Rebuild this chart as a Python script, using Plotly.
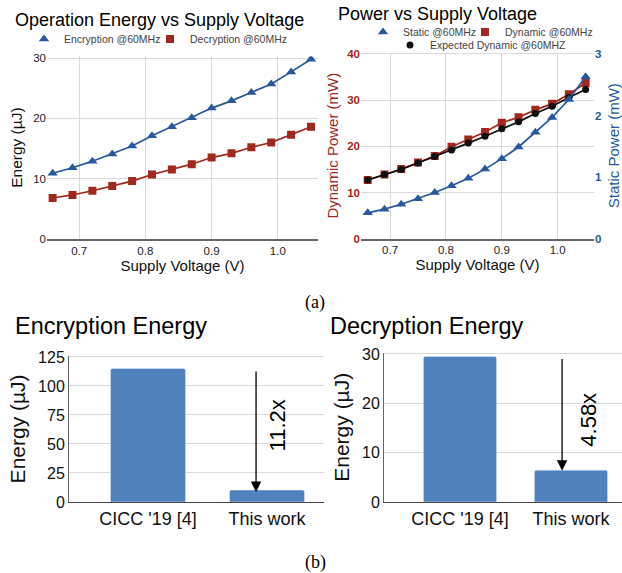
import plotly.graph_objects as go

# ---------------- data ----------------
voltage = [0.66, 0.69, 0.72, 0.75, 0.78, 0.81, 0.84, 0.87, 0.90, 0.93, 0.96, 0.99, 1.02, 1.05]
enc_energy = [10.9, 11.8, 12.9, 14.1, 15.4, 17.1, 18.6, 20.1, 21.7, 22.9, 24.3, 25.7, 27.7, 29.8]
dec_energy = [6.8, 7.3, 8.0, 8.8, 9.6, 10.7, 11.5, 12.4, 13.5, 14.2, 15.2, 16.0, 17.3, 18.6]
dyn_power = [12.7, 13.9, 15.1, 16.5, 17.9, 19.9, 21.5, 23.1, 25.1, 26.3, 27.9, 29.2, 31.3, 33.7]
exp_dyn_power = [12.7, 13.9, 15.0, 16.4, 17.8, 19.2, 20.7, 22.2, 23.8, 25.3, 27.1, 28.7, 30.6, 32.3]
static_power = [0.42, 0.48, 0.56, 0.65, 0.75, 0.86, 0.98, 1.13, 1.30, 1.49, 1.73, 1.97, 2.26, 2.63]

bar_categories = ["CICC '19 [4]", "This work"]
enc_bar = [115.0, 10.3]
dec_bar = [29.5, 6.45]
enc_ratio_label = "11.2x"
dec_ratio_label = "4.58x"

# ---------------- style ----------------
W, H = 622, 573
FONT = "Liberation Sans, Arial, sans-serif"
BLUE = "#27599c"
RED = "#a1281c"
BLACK = "#111111"
BAR = "#4f81bd"
GRID = "#d9d9d9"

def px(x):
    return x / W

def py(y):
    return 1 - y / H

fig = go.Figure()

def add_series(x, y, name, color, symbol, size, xa, ya, legend):
    # line part (not in legend) + marker part (legend shows marker only)
    fig.add_trace(go.Scatter(x=x, y=y, mode="lines", line=dict(color=color, width=1.7),
                             xaxis=xa, yaxis=ya, showlegend=False, hoverinfo="skip"))
    fig.add_trace(go.Scatter(x=x, y=y, name=name, mode="markers",
                             marker=dict(symbol=symbol, size=size, color=color),
                             xaxis=xa, yaxis=ya, legend=legend))

# chart 1: Operation energy
add_series(voltage, enc_energy, "Encryption @60MHz", BLUE, "triangle-up", 9, "x", "y", "legend")
add_series(voltage, dec_energy, "Decryption @60MHz", RED, "square", 8, "x", "y", "legend2")

# chart 2: Power
add_series(voltage, dyn_power, "Dynamic @60MHz", RED, "square", 8, "x2", "y2", "legend4")
add_series(voltage, exp_dyn_power, "Expected Dynamic @60MHZ", BLACK, "circle", 7, "x2", "y2", "legend5")
add_series(voltage, static_power, "Static @60MHz", BLUE, "triangle-up", 9, "x2", "y3", "legend3")

# chart 3 / 4: bars
fig.add_trace(go.Bar(x=bar_categories, y=enc_bar, marker=dict(color=BAR), width=0.63,
                     xaxis="x3", yaxis="y4", showlegend=False))
fig.add_trace(go.Bar(x=bar_categories, y=dec_bar, marker=dict(color=BAR), width=0.66,
                     xaxis="x4", yaxis="y5", showlegend=False))

tick_small = dict(family=FONT, size=11.5, color="#222")
title_mid = dict(family=FONT, size=15, color="#111")

def legend_at(xpix, ypix):
    return dict(x=px(xpix), y=py(ypix), xanchor="left", yanchor="middle",
                orientation="h", bgcolor="rgba(0,0,0,0)",
                font=dict(family=FONT, size=10.5, color="#444"))

fig.update_layout(
    width=W, height=H,
    margin=dict(l=0, r=0, t=0, b=0, autoexpand=False),
    paper_bgcolor="white", plot_bgcolor="white",
    font=dict(family=FONT),
    barcornerradius=2,
    legend=legend_at(24, 39),
    legend2=legend_at(150, 39),
    legend3=legend_at(363, 32),
    legend4=legend_at(465, 32),
    legend5=legend_at(390, 45),
    xaxis=dict(domain=[px(47), px(318)], range=[0.6515, 1.0606], anchor="y", automargin=False,
               tick0=0.7, dtick=0.1, tickformat=".1f", ticks="",
               showgrid=True, gridcolor=GRID, zeroline=False,
               showline=True, linecolor="#666", linewidth=1.5,
               tickfont=tick_small,
               title=dict(text="Supply Voltage (V)", font=title_mid, standoff=2)),
    yaxis=dict(domain=[py(239), py(56.2)], range=[0, 30.3], anchor="x", automargin=False,
               dtick=10, ticks="", showgrid=True, gridcolor=GRID, zeroline=False,
               tickfont=tick_small,
               title=dict(text="Energy (µJ)", font=dict(family=FONT, size=15.5, color="#111"), standoff=6)),
    xaxis2=dict(domain=[px(361), px(594)], range=[0.648, 1.065], anchor="y2", automargin=False,
                tick0=0.7, dtick=0.1, tickformat=".1f", ticks="",
                showgrid=True, gridcolor=GRID, zeroline=False,
                showline=True, linecolor="#666", linewidth=1.5,
                tickfont=tick_small,
                title=dict(text="Supply Voltage (V)", font=title_mid, standoff=2)),
    yaxis2=dict(domain=[py(238.7), py(52.6)], range=[0, 40.3], anchor="x2", automargin=False,
                dtick=10, ticks="", showgrid=True, gridcolor=GRID, zeroline=False,
                tickfont=dict(family=FONT, size=11.5, color=RED, weight="bold"),
                title=dict(text="Dynamic Power (mW)", font=dict(family=FONT, size=15, color=RED), standoff=4)),
    yaxis3=dict(overlaying="y2", side="right", anchor="x2", range=[0, 3.0225], automargin=False,
                dtick=1, ticks="", showgrid=False, zeroline=False,
                tickfont=dict(family=FONT, size=11.5, color=BLUE, weight="bold"),
                title=dict(text="Static Power (mW)", font=dict(family=FONT, size=15, color=BLUE), standoff=9)),
    xaxis3=dict(domain=[px(69), px(324)], type="category", range=[-0.664, 1.479], anchor="y4",
                automargin=False, ticks="", showgrid=False, zeroline=False,
                showline=True, linecolor="#444", linewidth=1.2,
                tickfont=dict(family=FONT, size=18, color="#111")),
    yaxis4=dict(domain=[py(502), py(355.8)], range=[0, 126], anchor="x3", automargin=False,
                dtick=25, ticks="", showgrid=True, gridcolor=GRID, zeroline=False,
                showline=True, linecolor="#666", linewidth=1,
                tickfont=dict(family=FONT, size=16, color="#111"),
                title=dict(text="Energy (µJ)", font=dict(family=FONT, size=21, color="#111"), standoff=6)),
    xaxis4=dict(domain=[px(384), px(622)], type="category", range=[-0.685, 1.46], anchor="y5",
                automargin=False, ticks="", showgrid=False, zeroline=False,
                showline=True, linecolor="#444", linewidth=1.2,
                tickfont=dict(family=FONT, size=18, color="#111")),
    yaxis5=dict(domain=[py(502), py(352.5)], range=[0, 30.3], anchor="x4", automargin=False,
                dtick=10, ticks="", showgrid=True, gridcolor=GRID, zeroline=False,
                showline=True, linecolor="#666", linewidth=1,
                tickfont=dict(family=FONT, size=16, color="#111"),
                title=dict(text="Energy (µJ)", font=dict(family=FONT, size=21, color="#111"), standoff=6)),
)

annotations = [
    dict(text="Operation Energy vs Supply Voltage", x=px(13), y=py(20), xref="paper", yref="paper",
         xanchor="left", yanchor="middle", showarrow=False, font=dict(family=FONT, size=18, color="#000")),
    dict(text="Power vs Supply Voltage", x=px(336), y=py(14.5), xref="paper", yref="paper",
         xanchor="left", yanchor="middle", showarrow=False, font=dict(family=FONT, size=18, color="#000")),
    dict(text="Encryption Energy", x=px(13), y=py(326), xref="paper", yref="paper",
         xanchor="left", yanchor="middle", showarrow=False, font=dict(family=FONT, size=23.5, color="#000")),
    dict(text="Decryption Energy", x=px(328), y=py(326), xref="paper", yref="paper",
         xanchor="left", yanchor="middle", showarrow=False, font=dict(family=FONT, size=23.5, color="#000")),
    dict(text="(a)", x=px(315), y=py(302), xref="paper", yref="paper",
         xanchor="center", yanchor="middle", showarrow=False,
         font=dict(family="Liberation Serif, Times New Roman, serif", size=18, color="#000")),
    dict(text="(b)", x=px(315), y=py(562), xref="paper", yref="paper",
         xanchor="center", yanchor="middle", showarrow=False,
         font=dict(family="Liberation Serif, Times New Roman, serif", size=18, color="#000")),
    # arrows
    dict(text="", x=0.908, y=8.6, ax=0.908, ay=113.8, xref="x3", yref="y4", axref="x3", ayref="y4",
         showarrow=True, arrowhead=2, arrowsize=1.6, arrowwidth=1.3, arrowcolor="#000", standoff=0),
    dict(text="", x=0.92, y=6.34, ax=0.92, ay=29.3, xref="x4", yref="y5", axref="x4", ayref="y5",
         showarrow=True, arrowhead=2, arrowsize=1.6, arrowwidth=1.3, arrowcolor="#000", standoff=0),
    dict(text=enc_ratio_label, x=1.084, y=66, xref="x3", yref="y4", showarrow=False, textangle=-90,
         font=dict(family=FONT, size=22, color="#000")),
    dict(text=dec_ratio_label, x=1.15, y=16.6, xref="x4", yref="y5", showarrow=False, textangle=-90,
         font=dict(family=FONT, size=22, color="#000")),
]
fig.update_layout(annotations=annotations)

# remove the browser's default 8px page margin so the figure fills the window
fig.write_html("out.html", config={"displayModeBar": False},
               post_script="document.body.style.margin='0';")
